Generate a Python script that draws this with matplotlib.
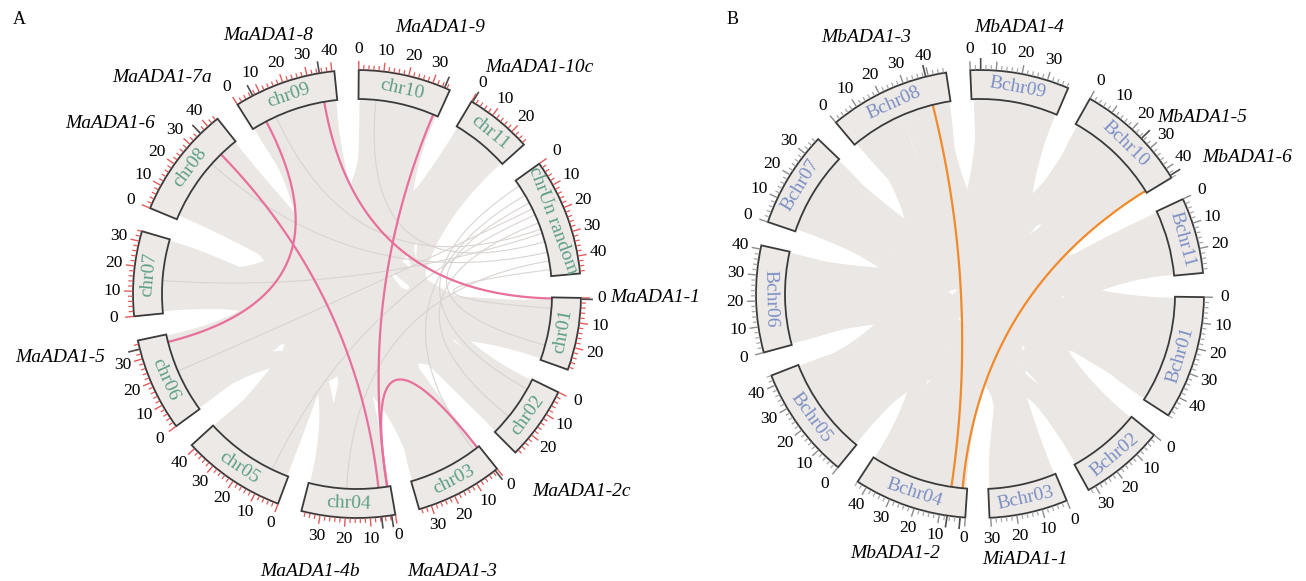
import numpy as np
import matplotlib
matplotlib.use('Agg')
import matplotlib.pyplot as plt
from matplotlib.patches import Wedge, Polygon
from matplotlib.collections import LineCollection

plt.rcParams['font.family'] = ['Liberation Serif', 'DejaVu Serif']

#%% panel A data (M. acuminata), sizes in Mb
a_chroms = ['chr01', 'chr02', 'chr03', 'chr04', 'chr05', 'chr06',
            'chr07', 'chr08', 'chr09', 'chr10', 'chr11', 'chrUn']
a_names = ['chr01', 'chr02', 'chr03', 'chr04', 'chr05', 'chr06',
           'chr07', 'chr08', 'chr09', 'chr10', 'chr11', 'chrUn random']
a_sizes = [29.07, 29.51, 35.02, 37.59, 41.77, 37.51, 34.11, 44.90, 41.00, 37.27, 27.04, 47.0]

a_genes = ['MaADA1-1', 'MaADA1-2c', 'MaADA1-3', 'MaADA1-4b', 'MaADA1-5',
           'MaADA1-6', 'MaADA1-7a', 'MaADA1-8', 'MaADA1-9', 'MaADA1-10c']
a_gene_chr = ['chr01', 'chr03', 'chr04', 'chr04', 'chr06', 'chr08', 'chr09', 'chr09', 'chr10', 'chr11']
a_gene_pos = [0.5, 1.0, 1.5, 5.5, 34, 36, 7, 35, 35, 0.5]
a_pairs = [('MaADA1-1', 'MaADA1-8'), ('MaADA1-9', 'MaADA1-3'), ('MaADA1-2c', 'MaADA1-3'),
           ('MaADA1-6', 'MaADA1-4b'), ('MaADA1-7a', 'MaADA1-5')]

# syntenic blocks (chrA, start, end, chrB, start, end)
a_blocks = [
    ('chr01', 1, 9, 'chr03', 26, 34.5),
    ('chr01', 9.5, 18, 'chr08', 2, 11),
    ('chr01', 18.5, 28.5, 'chr05', 30, 41.5),
    ('chr02', 0.5, 8, 'chr10', 27, 36.5),
    ('chr02', 8.5, 18, 'chr07', 1, 10),
    ('chr02', 18.5, 29, 'chr08', 34, 44.5),
    ('chr03', 0.5, 12, 'chr09', 0.5, 9),
    ('chr03', 12.5, 25.5, 'chr11', 14, 26.5),
    ('chr04', 0.5, 13, 'chr09', 13, 24),
    ('chr04', 13.5, 25, 'chr10', 0.5, 13),
    ('chr04', 25.5, 37, 'chr07', 23, 33.5),
    ('chr05', 0.5, 14, 'chr10', 13.5, 26.5),
    ('chr05', 14.5, 29.5, 'chr08', 11.5, 23),
    ('chr06', 0.5, 12, 'chr11', 0.5, 13.5),
    ('chr06', 12.5, 25, 'chr09', 24.5, 40.5),
    ('chr06', 25.5, 37, 'chr08', 23.5, 33.5),
    ('chr07', 10.5, 22.5, 'chr09', 9.5, 12.5),
    ('chr01', 2, 14, 'chr07', 12, 24),
    ('chr01', 12, 27, 'chr09', 14, 30),
    ('chr02', 2, 15, 'chr05', 16, 30),
    ('chr02', 14, 28, 'chr11', 2, 12),
    ('chr03', 3, 18, 'chr07', 2, 14),
    ('chr03', 17, 33, 'chr06', 2, 16),
    ('chr04', 2, 18, 'chr08', 24, 40),
    ('chr05', 2, 20, 'chr09', 2, 18),
    ('chr05', 20, 40, 'chr10', 2, 18),
    ('chr06', 2, 18, 'chr10', 20, 35),
    ('chr06', 18, 36, 'chr02', 4, 16),
    ('chr07', 2, 16, 'chr10', 4, 20),
    ('chr07', 18, 33, 'chr03', 18, 32),
    ('chr08', 2, 20, 'chr02', 10, 26),
    ('chr08', 22, 43, 'chr04', 4, 20),
    ('chr09', 20, 39, 'chr05', 6, 24),
    ('chr10', 20, 36, 'chr04', 20, 34),
    ('chr11', 2, 14, 'chr05', 24, 38),
    ('chr11', 14, 26, 'chr07', 4, 16),
    ('chr09', 26, 40, 'chr03', 4, 14),
    ('chr08', 4, 18, 'chr11', 4, 16),
    ('chr01', 4, 24, 'chr06', 18, 34),
    ('chr02', 4, 24, 'chr08', 16, 34),
    ('chr03', 6, 28, 'chr09', 6, 26),
    ('chr04', 8, 30, 'chr10', 6, 28),
    ('chr05', 6, 30, 'chr11', 4, 22),
    ('chr07', 4, 28, 'chr01', 2, 20),
    ('chr10', 4, 30, 'chr05', 10, 34),
    ('chr08', 10, 36, 'chr03', 8, 28),
    ('chr09', 4, 30, 'chr02', 6, 24),
    ('chr06', 6, 30, 'chr10', 10, 30),
]
# thin links from chrUn random
a_lines = [('chrUn', 3, 'chr02', 5), ('chrUn', 8, 'chr03', 3), ('chrUn', 12, 'chr01', 22),
           ('chrUn', 18, 'chr05', 8), ('chrUn', 22, 'chr02', 20), ('chrUn', 27, 'chr07', 15),
           ('chrUn', 31, 'chr10', 8), ('chrUn', 36, 'chr08', 30), ('chrUn', 40, 'chr04', 20),
           ('chrUn', 44, 'chr01', 5), ('chrUn', 15, 'chr06', 20), ('chrUn', 25, 'chr09', 12)]

#%% panel B data (M. balbisiana)
b_chroms = ['Bchr01', 'Bchr02', 'Bchr03', 'Bchr04', 'Bchr05', 'Bchr06',
            'Bchr07', 'Bchr08', 'Bchr09', 'Bchr10', 'Bchr11']
b_sizes = [48, 33, 30.5, 44, 44, 41.5, 37.5, 47, 38.5, 44, 29.5]

b_genes = ['MiADA1-1', 'MbADA1-2', 'MbADA1-3', 'MbADA1-4', 'MbADA1-5', 'MbADA1-6']
b_gene_chr = ['Bchr04', 'Bchr04', 'Bchr08', 'Bchr09', 'Bchr10', 'Bchr10']
b_gene_pos = [2, 7, 39, 4, 25, 43]
b_pairs = [('MbADA1-3', 'MbADA1-2'), ('MbADA1-6', 'MiADA1-1')]

b_blocks = [
    ('Bchr01', 0.5, 12, 'Bchr08', 1, 10),
    ('Bchr01', 12.5, 25, 'Bchr05', 32, 43.5),
    ('Bchr01', 25.5, 36, 'Bchr03', 20, 30),
    ('Bchr01', 36.5, 47.5, 'Bchr10', 1, 12),
    ('Bchr02', 0.5, 11, 'Bchr09', 28, 38),
    ('Bchr02', 11.5, 22, 'Bchr07', 1, 12),
    ('Bchr02', 22.5, 32.5, 'Bchr06', 30, 41),
    ('Bchr03', 0.5, 10, 'Bchr09', 1, 12),
    ('Bchr03', 10.5, 19.5, 'Bchr11', 16, 29),
    ('Bchr04', 0.5, 15, 'Bchr10', 12.5, 27),
    ('Bchr04', 15.5, 30, 'Bchr08', 10.5, 24),
    ('Bchr04', 30.5, 43.5, 'Bchr07', 24, 37),
    ('Bchr05', 0.5, 15, 'Bchr11', 0.5, 15.5),
    ('Bchr05', 15.5, 31.5, 'Bchr09', 12.5, 27.5),
    ('Bchr06', 0.5, 14, 'Bchr10', 27.5, 43.5),
    ('Bchr06', 14.5, 29.5, 'Bchr08', 24.5, 36),
    ('Bchr07', 12.5, 23.5, 'Bchr08', 36.5, 46.5),
    ('Bchr01', 2, 20, 'Bchr06', 2, 16),
    ('Bchr01', 20, 46, 'Bchr07', 14, 30),
    ('Bchr02', 2, 16, 'Bchr08', 26, 44),
    ('Bchr02', 16, 31, 'Bchr05', 2, 16),
    ('Bchr03', 2, 16, 'Bchr07', 2, 16),
    ('Bchr03', 14, 29, 'Bchr10', 28, 42),
    ('Bchr04', 2, 20, 'Bchr09', 4, 20),
    ('Bchr04', 22, 42, 'Bchr11', 4, 22),
    ('Bchr05', 4, 22, 'Bchr10', 2, 16),
    ('Bchr05', 22, 42, 'Bchr08', 4, 20),
    ('Bchr06', 4, 22, 'Bchr09', 18, 36),
    ('Bchr06', 22, 40, 'Bchr11', 8, 26),
    ('Bchr07', 2, 18, 'Bchr10', 16, 30),
    ('Bchr07', 20, 36, 'Bchr01', 28, 44),
    ('Bchr08', 4, 22, 'Bchr02', 4, 18),
    ('Bchr08', 24, 45, 'Bchr03', 4, 22),
    ('Bchr09', 2, 18, 'Bchr05', 20, 36),
    ('Bchr09', 20, 37, 'Bchr04', 6, 24),
    ('Bchr10', 4, 22, 'Bchr06', 18, 34),
    ('Bchr10', 24, 42, 'Bchr04', 26, 42),
    ('Bchr11', 2, 14, 'Bchr01', 4, 18),
    ('Bchr11', 14, 28, 'Bchr07', 4, 18),
]
b_lines = []

# label placement (pixels)
a_gene_xy = [(655, 297), (581, 492), (452, 572), (310, 572), (60, 357),
             (110, 123), (162, 77), (268, 36), (440, 28), (539, 67)]
b_gene_xy = [(1025, 559), (895, 553), (866, 37), (1019, 28), (1202, 118), (1247, 157)]

R_IN, R_OUT = 195, 224
RIB = '#ebe7e4'


def draw_circos(ax, cx, cy, chroms, names, sizes, start, scale, blocks, lines,
                genes, gene_chr, gene_pos, pairs, gene_xy, tick_col, major_col,
                name_col, pair_col):
    n = len(chroms)
    gap = (360 - scale * sum(sizes)) / n
    st = {}
    t = start
    for c, L in zip(chroms, sizes):
        st[c] = t
        t += L * scale + gap

    def ang(c, x):
        return st[c] + x * scale

    def pt(th, r):
        th = np.radians(th)
        return np.array([cx + r * np.cos(th), cy + r * np.sin(th)])

    ctr = np.array([cx, cy])

    def bez(p0, p2, k=60):
        tt = np.linspace(0, 1, k)[:, None]
        return (1 - tt) ** 2 * p0 + 2 * (1 - tt) * tt * ctr + tt ** 2 * p2

    def arc(th1, th2, r, k=30):
        th = np.radians(np.linspace(th1, th2, k))
        return np.column_stack([cx + r * np.cos(th), cy + r * np.sin(th)])

    # ribbons
    for ca, a1, a2, cb, b1, b2 in blocks:
        A = arc(ang(ca, a1), ang(ca, a2), R_IN - 1)
        B = arc(ang(cb, b1), ang(cb, b2), R_IN - 1)
        poly = np.vstack([A, bez(A[-1], B[0]), B, bez(B[-1], A[0])])
        ax.add_patch(Polygon(poly, closed=True, fc=RIB, ec='none', zorder=1))

    for ca, xa, cb, xb in lines:
        p = bez(pt(ang(ca, xa), R_IN - 1), pt(ang(cb, xb), R_IN - 1))
        ax.plot(p[:, 0], p[:, 1], color='#d9d4d1', lw=0.8, zorder=1.2)

    # gene pair links
    gidx = {g: i for i, g in enumerate(genes)}
    for g1, g2 in pairs:
        i, j = gidx[g1], gidx[g2]
        p = bez(pt(ang(gene_chr[i], gene_pos[i]), R_IN), pt(ang(gene_chr[j], gene_pos[j]), R_IN))
        ax.plot(p[:, 0], p[:, 1], color=pair_col, lw=1.6, zorder=2)

    # chromosome boxes, ticks, labels
    minor, major = [], []
    for c, nm, L in zip(chroms, names, sizes):
        th1, th2 = ang(c, 0), ang(c, L)
        ax.add_patch(Wedge((cx, cy), R_OUT, th1, th2, width=R_OUT - R_IN,
                           fc='#ece9e7', ec='#3a3a3a', lw=1.3, zorder=3))
        thm = (th1 + th2) / 2
        rot = ((-thm + 90) + 90) % 180 - 90
        p = pt(thm, (R_IN + R_OUT) / 2)
        ax.text(p[0], p[1], nm, color=name_col, fontsize=14, rotation=rot,
                rotation_mode='anchor', ha='center', va='center', zorder=5)
        for x in np.arange(0, L + 0.01, 2):
            th = ang(c, x)
            if x % 10 == 0:
                major.append([pt(th, R_OUT + 0.5), pt(th, R_OUT + 9)])
                q = pt(th, 245)
                ax.text(q[0], q[1], '%d' % x, fontsize=12.5, ha='center', va='center', zorder=5)
            else:
                minor.append([pt(th, R_OUT + 0.5), pt(th, R_OUT + 5)])
    ax.add_collection(LineCollection(minor, colors=tick_col, lw=0.9, zorder=4))
    ax.add_collection(LineCollection(major, colors=major_col, lw=1.0, zorder=4))

    gt = [[pt(ang(c, x), R_OUT + 0.5), pt(ang(c, x), R_OUT + 12)] for c, x in zip(gene_chr, gene_pos)]
    ax.add_collection(LineCollection(gt, colors='#4d4d4d', lw=1.2, zorder=4))

    for g, (x, y) in zip(genes, gene_xy):
        ax.text(x, y, g, fontsize=14, style='italic', ha='center', va='center', zorder=5)


fig = plt.figure(figsize=(13.06, 5.81), dpi=100)
ax = fig.add_axes([0, 0, 1, 1])
ax.set_xlim(0, 1306)
ax.set_ylim(581, 0)
ax.axis('off')

draw_circos(ax, 357, 294, a_chroms, a_names, a_sizes, 1.0, 0.645, a_blocks, a_lines,
            a_genes, a_gene_chr, a_gene_pos, a_pairs, a_gene_xy,
            '#e25a5a', '#e25a5a', '#5e9f86', '#e8709c')
draw_circos(ax, 980, 294, b_chroms, b_chroms, b_sizes, 0.8, 0.667, b_blocks, b_lines,
            b_genes, b_gene_chr, b_gene_pos, b_pairs, b_gene_xy,
            '#a8a8a8', '#8c8c8c', '#7d90c4', '#f08a2a')

ax.text(19, 20, 'A', fontsize=13, ha='center', va='center')
ax.text(733, 20, 'B', fontsize=13, ha='center', va='center')

fig.savefig('out.png', dpi=100)
